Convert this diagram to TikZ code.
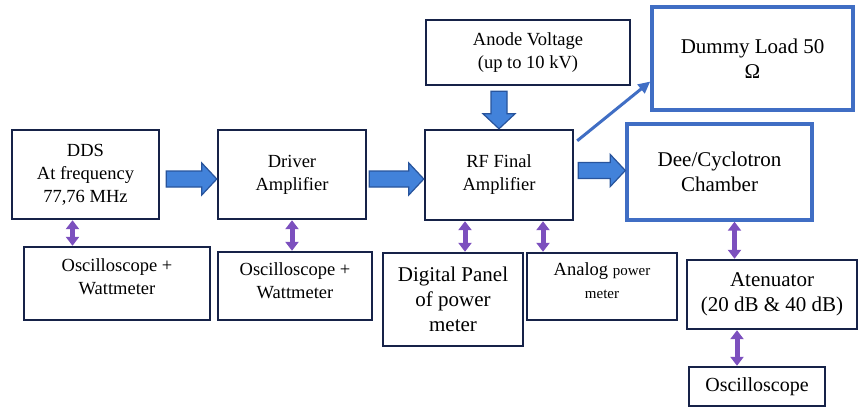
\documentclass[tikz,border=0pt]{standalone}
\usepackage{fontspec}
\setmainfont{Liberation Serif}
\usetikzlibrary{calc,arrows.meta}

\definecolor{boxnavy}{RGB}{22,34,72}
\definecolor{boxblue}{RGB}{64,110,196}
\definecolor{arrowblue}{RGB}{66,130,218}
\definecolor{arrowedge}{RGB}{40,84,156}
\definecolor{linkpurple}{RGB}{124,80,190}

\tikzset{
  box/.style={draw=boxnavy, line width=2.4pt, fill=white, align=center,
    font=\fontsize{18.5}{23}\selectfont, inner sep=2pt},
  bluebox/.style={box, draw=boxblue, line width=3.4pt, font=\fontsize{21}{25}\selectfont},
  fatarrow/.style={draw=arrowedge, fill=arrowblue, line width=1.2pt, line join=miter},
  link/.style={draw=linkpurple, line width=5pt,
    {Triangle[width=13pt,length=9pt]}-{Triangle[width=13pt,length=9pt]}},
  thinarrow/.style={draw=boxblue, line width=3pt, -{Triangle[width=11pt,length=12pt]}}
}

% fat block arrows, horizontal and downward
\newcommand{\harrow}[2]{%
  \path[fatarrow] let \p1=(#1), \p2=(#2) in
    (\x1,\y1+8) -- (\x2-15,\y1+8) -- (\x2-15,\y1+16) -- (\x2,\y1)
    -- (\x2-15,\y1-16) -- (\x2-15,\y1-8) -- (\x1,\y1-8) -- cycle;}
\newcommand{\varrow}[2]{%
  \path[fatarrow] let \p1=(#1), \p2=(#2) in
    (\x1-8,\y1) -- (\x1-8,\y2+15) -- (\x1-16,\y2+15) -- (\x1,\y2)
    -- (\x1+16,\y2+15) -- (\x1+8,\y2+15) -- (\x1+8,\y1) -- cycle;}

\begin{document}
\begin{tikzpicture}[x=1pt,y=-1pt]
\useasboundingbox (0,0) rectangle (859,409);

% main chain
\node[box, minimum width=147pt, minimum height=89pt] (dds) at (85.5,174.5)
  {DDS\\At frequency\\77,76 MHz};
\node[box, minimum width=148pt, minimum height=89pt] (drv) at (292,174.5)
  {Driver\\Amplifier};
\node[box, minimum width=148pt, minimum height=90pt] (rf) at (499,175)
  {RF Final\\Amplifier};
\node[box, minimum width=204pt, minimum height=65pt] (anode) at (528,52.5)
  {Anode Voltage\\(up to 10 kV)};
\node[bluebox, minimum width=201pt, minimum height=103pt] (dummy) at (752.5,58.5)
  {Dummy Load 50\\Ω};
\node[bluebox, minimum width=185pt, minimum height=96pt] (dee) at (719.5,172)
  {Dee/Cyclotron\\Chamber};

% measurement
\node[box, minimum width=186pt, minimum height=73pt, text depth=14pt] (osc1) at (117,283.5)
  {Oscilloscope +\\Wattmeter};
\node[box, minimum width=154pt, minimum height=68pt, text depth=10pt] (osc2) at (295,286)
  {Oscilloscope +\\Wattmeter};
\node[box, minimum width=140pt, minimum height=93pt, font=\fontsize{21}{25}\selectfont] (dig) at (453,299.5)
  {Digital Panel\\of power\\meter};
\node[box, minimum width=150pt, minimum height=67pt, text depth=12pt] (ana) at (602,286.5)
  {Analog {\fontsize{15}{22}\selectfont power}\\{\fontsize{15}{22}\selectfont meter}};
\node[box, minimum width=170pt, minimum height=69pt, font=\fontsize{21}{25}\selectfont] (aten) at (772,294.5)
  {Atenuator\\(20 dB \& 40 dB)};
\node[box, minimum width=136pt, minimum height=39pt, font=\fontsize{20}{24}\selectfont] (oscb) at (757,386.5)
  {Oscilloscope};

% power flow
\harrow{[shift={(6pt,-4.5pt)}]dds.east}{[yshift=-4.5pt]drv.west}
\harrow{[shift={(2pt,-4.5pt)}]drv.east}{[yshift=-4.5pt]rf.west}
\harrow{[shift={(4pt,4.5pt)}]rf.east}{[yshift=1.5pt]dee.west}
\varrow{[yshift=-5pt]anode.south -| rf.north}{rf.north}
\draw[thinarrow] ([shift={(3pt,-12pt)}]rf.north east) -- ([yshift=-23pt]dummy.west);

% probes
\draw[link] ([xshift=-13pt]dds.south) -- ([xshift=-13pt]dds.south |- osc1.north);
\draw[link] (drv.south) -- (drv.south |- osc2.north);
\draw[link] ([xshift=-34pt]rf.south) -- ([xshift=-34pt]rf.south |- dig.north);
\draw[link] ([xshift=44pt]rf.south) -- ([xshift=44pt]rf.south |- ana.north);
\draw[link] ([xshift=15pt]dee.south) -- ([xshift=15pt]dee.south |- aten.north);
\draw[link] ([xshift=-20pt]oscb.north |- aten.south) -- ([xshift=-20pt]oscb.north);
\end{tikzpicture}
\end{document}
